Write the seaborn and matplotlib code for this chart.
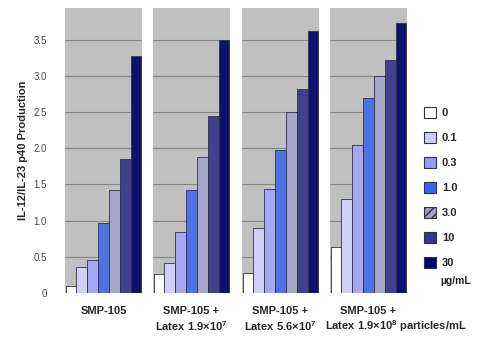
import numpy as np
import pandas as pd
import seaborn as sns
import matplotlib.pyplot as plt
from matplotlib.patches import Patch

# concentrations (ug/mL) and the four treatment groups
concs = ["0", "0.1", "0.3", "1.0", "3.0", "10", "30"]
groups = ["SMP-105", "SMP-105 + Latex 1.9e7", "SMP-105 + Latex 5.6e7", "SMP-105 + Latex 1.9e8"]
smp105 = [0.10, 0.36, 0.45, 0.97, 1.42, 1.85, 3.27]
latex_19e7 = [0.26, 0.41, 0.84, 1.42, 1.88, 2.45, 3.50]
latex_56e7 = [0.28, 0.90, 1.44, 1.98, 2.50, 2.82, 3.62]
latex_19e8 = [0.63, 1.30, 2.05, 2.70, 3.00, 3.22, 3.73]
bar_colors = ["#ffffff", "#ccccff", "#9999ff", "#3366ff", "#9fa0d0", "#333399", "#000080"]

line1 = ["SMP-105", "SMP-105 +", "SMP-105 +", "SMP-105 +"]
line2 = ["", r"Latex 1.9×10$\mathbf{^{7}}$", r"Latex 5.6×10$\mathbf{^{7}}$",
         r"Latex 1.9×10$\mathbf{^{8}}$ particles/mL"]

df = pd.DataFrame({
    "group": np.repeat(groups, len(concs)),
    "conc": concs * len(groups),
    "value": smp105 + latex_19e7 + latex_56e7 + latex_19e8,
})

sns.set_style("white")
plt.rcParams["font.family"] = ["Liberation Sans", "DejaVu Sans"]
plt.rcParams["mathtext.fontset"] = "custom"
plt.rcParams["mathtext.bf"] = "Liberation Sans:bold"

fig = plt.figure(figsize=(4.81, 3.38), dpi=100)
lefts = [65, 153, 242, 330]
pw, bottom, top = 77, 293, 8
palette = dict(zip(concs, bar_colors))

for i, g in enumerate(groups):
    ax = fig.add_axes([lefts[i] / 481, 1 - bottom / 338, pw / 481, (bottom - top) / 338])
    sub = df[df["group"] == g]
    sns.barplot(data=sub, x="conc", y="value", hue="conc", palette=palette, order=concs,
                width=1.0, edgecolor="#333333", linewidth=0.6, legend=False, ax=ax, zorder=3)
    ax.set_facecolor("#c0c0c0")
    ax.set_ylim(0, 3.94)
    ax.set_xlim(-0.55, 6.55)
    ax.set_yticks(np.arange(0, 3.6, 0.5))
    ax.grid(axis="y", color="#858585", linewidth=0.8, zorder=0)
    ax.set_axisbelow(True)
    for s in ax.spines.values():
        s.set_visible(False)
    ax.set_xticks([])
    ax.set_xlabel("")
    ax.set_ylabel("")
    ax.tick_params(axis="y", length=0, pad=13, labelsize=7, colors="#444444")
    if i == 0:
        ax.set_yticklabels(["0", "0.5", "1.0", "1.5", "2.0", "2.5", "3.0", "3.5"])
        ax.set_ylabel("IL-12/IL-23 p40 Production", fontsize=8, fontweight="bold", labelpad=4)
    else:
        ax.set_yticklabels([])

    cx = (lefts[i] + pw / 2) / 481
    fig.text(cx, 1 - 311 / 338, line1[i], ha="center", va="center", fontsize=8, fontweight="bold")
    if line2[i]:
        if i == 3:
            fig.text(325 / 481, 1 - 326 / 338, line2[i], ha="left", va="center", fontsize=8, fontweight="bold")
        else:
            fig.text(cx, 1 - 326 / 338, line2[i], ha="center", va="center", fontsize=8, fontweight="bold")

handles = [Patch(facecolor=c, edgecolor="#333333", linewidth=0.8) for c in bar_colors]
handles[4] = Patch(facecolor=bar_colors[4], edgecolor="#333333", hatch="////", linewidth=0.8)
fig.legend(handles, concs, loc="upper left", bbox_to_anchor=(414 / 481, 1 - 97 / 338),
           frameon=False, handlelength=1.1, handleheight=1.1, handletextpad=0.5,
           labelspacing=1.25, prop={"size": 8, "weight": "bold"})
fig.text(456 / 481, 1 - 281 / 338, "µg/mL", ha="center", va="center", fontsize=7.5, fontweight="bold")

fig.savefig("out.png", dpi=100)
